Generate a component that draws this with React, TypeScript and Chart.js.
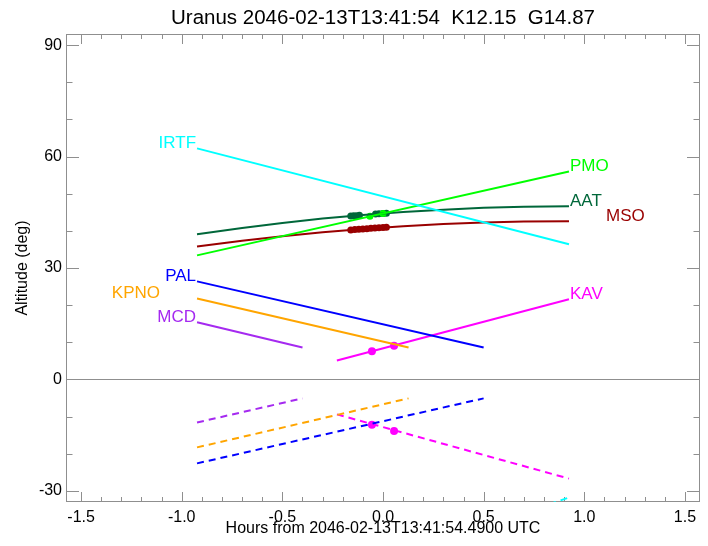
import React, { useEffect, useRef } from "react";
import { Chart, registerables } from "chart.js";

Chart.register(...registerables);

// ---------- text ----------
const TITLE = "Uranus 2046-02-13T13:41:54  K12.15  G14.87";
const X_TITLE = "Hours from 2046-02-13T13:41:54.4900 UTC";
const Y_TITLE = "Altitude (deg)";

// ---------- axes ----------
const X_TICKS = [-1.5, -1.0, -0.5, 0.0, 0.5, 1.0, 1.5];
const Y_TICKS = [-30, 0, 30, 60, 90];
const X_MIN = -1.575;
const X_MAX = 1.575;
const Y_MIN = -33;
const Y_MAX = 93;

// ---------- series (hours, altitude deg) ----------
const IRTF_H = [-0.924, 0.924];
const IRTF_ALT = [62.2, 36.4];
const IRTF_DASH_H = [0.6, 0.924];
const IRTF_DASH_ALT = [-37.8, -31.8];

const PMO_H = [-0.924, 0.924];
const PMO_ALT = [33.4, 56.0];
const PMO_DOT_H = [-0.065, 0.0];
const PMO_DOT_ALT = [43.9, 44.7];

const AAT_H = [-0.924, -0.7, -0.5, -0.3, -0.1, 0.1, 0.3, 0.5, 0.7, 0.924];
const AAT_ALT = [39.1, 40.8, 42.1, 43.3, 44.3, 45.1, 45.7, 46.2, 46.5, 46.6];
const AAT_DOT_H = [-0.16, -0.145, -0.13, -0.117, -0.037, -0.02, 0.0, 0.017];
const AAT_DOT_ALT = [44.0, 44.05, 44.1, 44.2, 44.55, 44.6, 44.7, 44.75];

const MSO_H = [-0.924, -0.7, -0.5, -0.3, -0.1, 0.1, 0.3, 0.5, 0.7, 0.924];
const MSO_ALT = [35.8, 37.36, 38.57, 39.62, 40.51, 41.25, 41.82, 42.24, 42.5, 42.6];
const MSO_DOT_H = [-0.16, -0.14, -0.12, -0.1, -0.08, -0.06, -0.04, -0.02, 0.0, 0.017];
const MSO_DOT_ALT = [40.26, 40.35, 40.44, 40.51, 40.6, 40.68, 40.75, 40.83, 40.9, 40.96];

const PAL_H = [-0.924, 0.5];
const PAL_ALT = [26.4, 8.6];
const PAL_DASH_H = [-0.924, 0.5];
const PAL_DASH_ALT = [-22.6, -5.1];

const KPNO_H = [-0.924, 0.127];
const KPNO_ALT = [21.8, 8.6];
const KPNO_DASH_H = [-0.924, 0.127];
const KPNO_DASH_ALT = [-18.3, -5.1];

const MCD_H = [-0.924, -0.4];
const MCD_ALT = [15.4, 8.6];
const MCD_DASH_H = [-0.924, -0.4];
const MCD_DASH_ALT = [-11.6, -5.1];

const KAV_H = [-0.229, 0.924];
const KAV_ALT = [5.1, 21.6];
const KAV_DOT_H = [-0.055, 0.055];
const KAV_DOT_ALT = [7.6, 9.1];
const KAV_DASH_H = [-0.229, 0.924];
const KAV_DASH_ALT = [-9.4, -26.7];
const KAV_DASH_DOT_H = [-0.055, 0.055];
const KAV_DASH_DOT_ALT = [-12.2, -13.9];

// ---------- styles ----------
const C = {
  IRTF: "#00ffff",
  PMO: "#00ff00",
  AAT: "#00673a",
  MSO: "#990000",
  PAL: "#0000ff",
  KPNO: "#ffa500",
  MCD: "#a52af0",
  KAV: "#ff00ff",
};
const AXIS_COLOR = "#8f8f8f";
const FONT = "'Liberation Sans', Helvetica, Arial, sans-serif";

const pts = (h: number[], a: number[]) => h.map((v, i) => ({ x: v, y: a[i] }));

function line(label: string, h: number[], a: number[], color: string, dashed = false) {
  return {
    type: "line" as const,
    label,
    data: pts(h, a),
    borderColor: color,
    backgroundColor: color,
    borderWidth: 2,
    borderDash: dashed ? [7, 5] : [],
    pointRadius: 0,
    showLine: true,
    tension: 0,
    fill: false,
  };
}

function dots(label: string, h: number[], a: number[], color: string, r: number) {
  return {
    type: "scatter" as const,
    label,
    data: pts(h, a),
    borderColor: color,
    backgroundColor: color,
    pointRadius: r,
    pointBorderWidth: 0,
    showLine: false,
  };
}

// label anchors: [name, hours array, alt array, which end, dx, align]
const LABELS: [string, number[], number[], "start" | "end", number, "left" | "right"][] = [
  ["IRTF", IRTF_H, IRTF_ALT, "start", -1, "right"],
  ["PAL", PAL_H, PAL_ALT, "start", -1, "right"],
  ["KPNO", KPNO_H, KPNO_ALT, "start", -37, "right"],
  ["MCD", MCD_H, MCD_ALT, "start", -1, "right"],
  ["PMO", PMO_H, PMO_ALT, "end", 1, "left"],
  ["AAT", AAT_H, AAT_ALT, "end", 1, "left"],
  ["MSO", MSO_H, MSO_ALT, "end", 37, "left"],
  ["KAV", KAV_H, KAV_ALT, "end", 1, "left"],
];

const framePlugin = {
  id: "frame",
  beforeDatasetsDraw(chart: any) {
    const { ctx, chartArea: a, scales } = chart;
    const x = scales.x;
    const y = scales.y;
    ctx.save();
    ctx.strokeStyle = AXIS_COLOR;
    ctx.lineWidth = 1;
    // zero line
    const y0 = Math.round(y.getPixelForValue(0)) + 0.5;
    ctx.beginPath();
    ctx.moveTo(a.left, y0);
    ctx.lineTo(a.right, y0);
    ctx.stroke();
    // border
    ctx.strokeRect(a.left + 0.5, a.top + 0.5, a.right - a.left - 1, a.bottom - a.top - 1);
    // x ticks (major 0.5, minor 0.1)
    ctx.beginPath();
    for (let i = -15; i <= 15; i++) {
      const px = Math.round(x.getPixelForValue(i / 10)) + 0.5;
      const len = i % 5 === 0 ? 10 : 5;
      ctx.moveTo(px, a.bottom);
      ctx.lineTo(px, a.bottom - len);
      ctx.moveTo(px, a.top);
      ctx.lineTo(px, a.top + len);
    }
    // y ticks (major 30, minor 10)
    for (let v = -30; v <= 90; v += 10) {
      const py = Math.round(y.getPixelForValue(v)) + 0.5;
      const len = v % 30 === 0 ? 13 : 6.5;
      ctx.moveTo(a.left, py);
      ctx.lineTo(a.left + len, py);
      ctx.moveTo(a.right, py);
      ctx.lineTo(a.right - len, py);
    }
    ctx.stroke();
    ctx.restore();
  },
  afterDatasetsDraw(chart: any) {
    const { ctx, scales } = chart;
    const x = scales.x;
    const y = scales.y;
    ctx.save();
    ctx.font = `17px ${FONT}`;
    ctx.textBaseline = "alphabetic";
    for (const [name, h, alt, end, dx, align] of LABELS) {
      const i = end === "start" ? 0 : h.length - 1;
      const px = x.getPixelForValue(h[i]) + dx;
      const py = y.getPixelForValue(alt[i]);
      ctx.fillStyle = (C as any)[name];
      ctx.textAlign = align;
      ctx.fillText(name, px, py);
    }
    ctx.restore();
  },
};

export default function App() {
  const ref = useRef<HTMLCanvasElement | null>(null);
  useEffect(() => {
    if (!ref.current) return;
    const chart = new Chart(ref.current, {
      type: "line",
      data: {
        datasets: [
          line("IRTF", IRTF_H, IRTF_ALT, C.IRTF),
          line("IRTF dashed", IRTF_DASH_H, IRTF_DASH_ALT, C.IRTF, true),
          line("PMO", PMO_H, PMO_ALT, C.PMO),
          line("AAT", AAT_H, AAT_ALT, C.AAT),
          line("MSO", MSO_H, MSO_ALT, C.MSO),
          line("PAL", PAL_H, PAL_ALT, C.PAL),
          line("PAL dashed", PAL_DASH_H, PAL_DASH_ALT, C.PAL, true),
          line("KPNO", KPNO_H, KPNO_ALT, C.KPNO),
          line("KPNO dashed", KPNO_DASH_H, KPNO_DASH_ALT, C.KPNO, true),
          line("MCD", MCD_H, MCD_ALT, C.MCD),
          line("MCD dashed", MCD_DASH_H, MCD_DASH_ALT, C.MCD, true),
          line("KAV", KAV_H, KAV_ALT, C.KAV),
          line("KAV dashed", KAV_DASH_H, KAV_DASH_ALT, C.KAV, true),
          dots("PMO obs", PMO_DOT_H, PMO_DOT_ALT, C.PMO, 3.5),
          dots("AAT obs", AAT_DOT_H, AAT_DOT_ALT, C.AAT, 3.5),
          dots("MSO obs", MSO_DOT_H, MSO_DOT_ALT, C.MSO, 3.5),
          dots("KAV obs", KAV_DOT_H, KAV_DOT_ALT, C.KAV, 4),
          dots("KAV dashed obs", KAV_DASH_DOT_H, KAV_DASH_DOT_ALT, C.KAV, 4),
        ] as any,
      },
      options: {
        responsive: false,
        animation: false,
        layout: { padding: { left: 0, right: 8, top: 0, bottom: 0 } },
        plugins: {
          legend: { display: false },
          tooltip: { enabled: false },
          title: {
            display: true,
            text: TITLE,
            color: "#000",
            fullSize: false,
            font: { family: FONT, size: 20.5, weight: "normal" as any },
            padding: { top: 6, bottom: 3.4 },
          },
        },
        scales: {
          x: {
            type: "linear",
            min: X_MIN,
            max: X_MAX,
            afterBuildTicks: (s: any) => {
              s.ticks = X_TICKS.map((v) => ({ value: v }));
            },
            afterFit: (s: any) => {
              s.height = 44;
            },
            grid: { display: false, drawTicks: false },
            border: { display: false },
            ticks: {
              color: "#000",
              font: { family: FONT, size: 16 },
              padding: 6,
              maxRotation: 0,
              autoSkip: false,
              callback: (v: any) => Number(v).toFixed(1),
            },
            title: {
              display: true,
              text: X_TITLE,
              color: "#000",
              font: { family: FONT, size: 16 },
              padding: { top: 0, bottom: 8 },
            },
          },
          y: {
            type: "linear",
            min: Y_MIN,
            max: Y_MAX,
            afterBuildTicks: (s: any) => {
              s.ticks = Y_TICKS.map((v) => ({ value: v }));
            },
            afterFit: (s: any) => {
              s.width = 66;
            },
            grid: { display: false, drawTicks: false },
            border: { display: false },
            ticks: {
              color: "#000",
              font: { family: FONT, size: 16 },
              padding: 4,
              autoSkip: false,
              callback: (v: any) => String(v),
            },
            title: {
              display: true,
              text: Y_TITLE,
              color: "#000",
              font: { family: FONT, size: 16 },
              padding: { top: 13, bottom: 0 },
            },
          },
        },
      } as any,
      plugins: [framePlugin],
    });
    return () => chart.destroy();
  }, []);

  return (
    <div style={{ position: "absolute", left: 0, top: 0, width: 708, height: 546, background: "#fff" }}>
      <canvas ref={ref} width={708} height={546} style={{ display: "block" }} />
    </div>
  );
}
